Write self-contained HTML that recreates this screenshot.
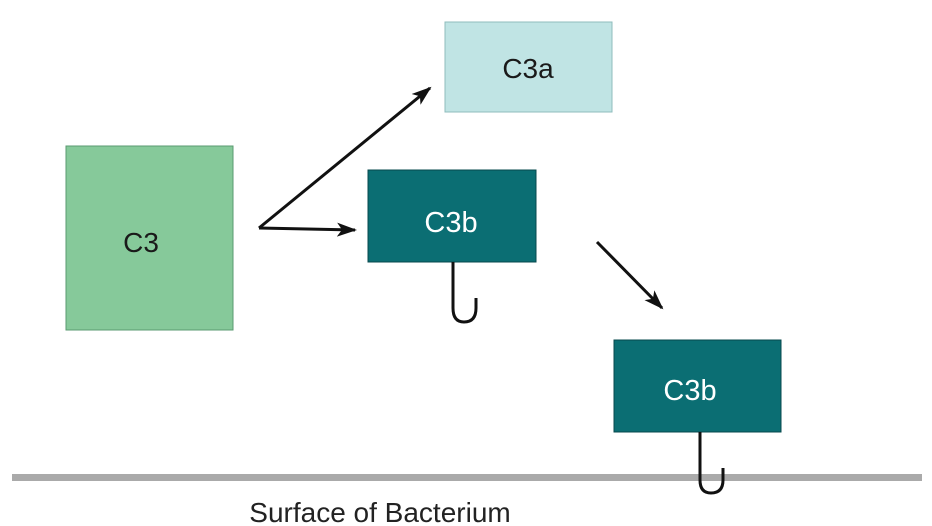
<!DOCTYPE html>
<html><head><meta charset="utf-8"><style>
html,body{margin:0;padding:0;background:#fff;}
svg{display:block;font-family:"Liberation Sans",sans-serif;}
</style></head><body>
<svg width="932" height="526" viewBox="0 0 932 526">
<defs>
<marker id="a2" markerWidth="20" markerHeight="14" refX="18" refY="7" orient="auto" markerUnits="userSpaceOnUse"><path d="M0,0 L20,7 L0,14 L5,7 Z" fill="#111"/></marker></defs>
<rect x="12" y="474" width="910" height="7" fill="#aaaaaa"/>
<g><rect x="66" y="146" width="167" height="184" fill="#86c99a" stroke="#5a9a70" stroke-width="1"/><text x="141" y="252" font-size="28" fill="#1a1a1a" text-anchor="middle">C3</text></g>
<g><rect x="445" y="22" width="167" height="90" fill="#c0e4e4" stroke="#8fbcbc" stroke-width="1"/><text x="528" y="78" font-size="28" fill="#1a1a1a" text-anchor="middle">C3a</text></g>
<g><rect x="368" y="170" width="168" height="92" fill="#0b6e73" stroke="#07484c" stroke-width="1"/><text x="451" y="232" font-size="29" fill="#fff" text-anchor="middle">C3b</text>
<path d="M453,262 L453,308 Q453,322 464,322 Q476,322 476,308 L476,298" fill="none" stroke="#111" stroke-width="3"/></g>
<g><rect x="614" y="340" width="167" height="92" fill="#0b6e73" stroke="#07484c" stroke-width="1"/><text x="690" y="400" font-size="29" fill="#fff" text-anchor="middle">C3b</text>
<path d="M700,432 L700,480 Q700,493 711,493 Q723,493 723,480 L723,468" fill="none" stroke="#111" stroke-width="3"/></g>
<line x1="259" y1="228" x2="430" y2="88" stroke="#111" stroke-width="3" marker-end="url(#a2)"/>
<line x1="259" y1="228" x2="355" y2="230" stroke="#111" stroke-width="3" marker-end="url(#a2)"/>
<line x1="597" y1="242" x2="662" y2="308" stroke="#111" stroke-width="3" marker-end="url(#a2)"/>
<text x="380" y="522" font-size="28" fill="#222" text-anchor="middle">Surface of Bacterium</text>
</svg>
</body></html>
